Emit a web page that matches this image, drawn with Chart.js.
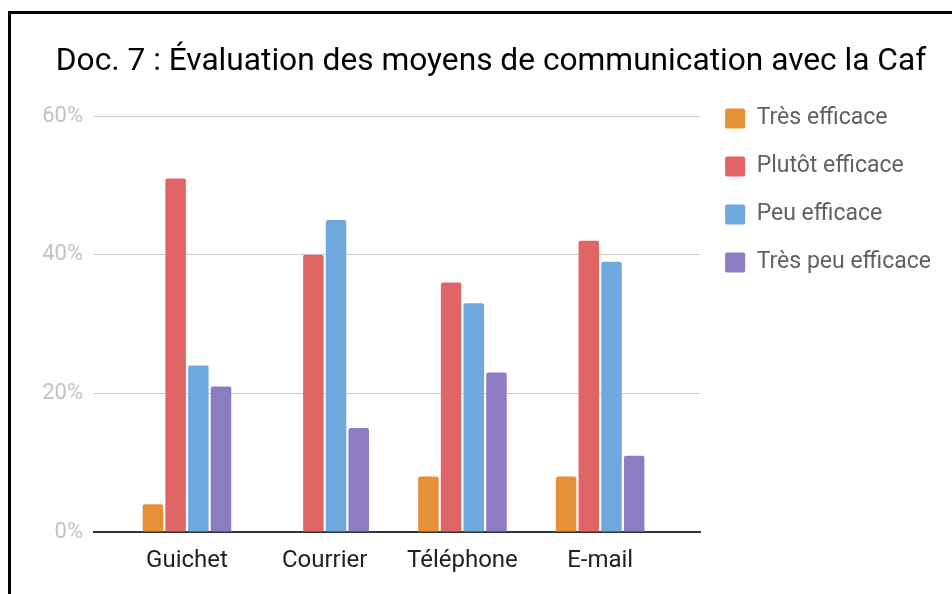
<!DOCTYPE html>
<html lang="fr">
<head>
<meta charset="utf-8">
<title>Doc. 7</title>
<script src="https://cdn.jsdelivr.net/npm/chart.js@4/dist/chart.umd.min.js"></script>
<style>
  html, body { margin: 0; padding: 0; background: #fff; }
  #wrap { position: relative; width: 952px; height: 594px; overflow: hidden; }
  #frame {
    position: absolute; left: 8px; top: 11px; width: 980px; height: 620px;
    border: 3px solid #000; pointer-events: none;
  }
</style>
</head>
<body>
<div id="wrap">
  <canvas id="chart" width="952" height="594"></canvas>
  <div id="frame"></div>
</div>
<script>
const categories = ["Guichet", "Courrier", "Téléphone", "E-mail"];
const tresEfficace = [4, 0, 8, 8];
const plutotEfficace = [51, 40, 36, 42];
const peuEfficace = [24, 45, 33, 39];
const tresPeuEfficace = [21, 15, 23, 11];
const yTicks = [0, 20, 40, 60];

// extra room (in categories) left and right of the bar groups
const X_PAD_LEFT = 0.175;
const X_PAD_RIGHT = 0.226;

function bars(label, data, color) {
  return {
    label: label,
    data: data,
    backgroundColor: color,
    borderWidth: 0,
    borderRadius: { topLeft: 2, topRight: 2 },
    borderSkipped: "start",
    categoryPercentage: 0.659,
    barPercentage: 0.903
  };
}

const ctx = document.getElementById("chart").getContext("2d");

const chart = new Chart(ctx, {
  type: "bar",
  data: {
    labels: categories,
    datasets: [
      bars("Très efficace", tresEfficace, "#e69138"),
      bars("Plutôt efficace", plutotEfficace, "#e06666"),
      bars("Peu efficace", peuEfficace, "#6fa8dc"),
      bars("Très peu efficace", tresPeuEfficace, "#8e7cc3")
    ]
  },
  options: {
    responsive: false,
    animation: false,
    events: [],
    layout: { padding: { top: 0, left: 41, right: 11, bottom: 0 } },
    scales: {
      x: {
        grid: { display: false, drawTicks: false },
        border: { display: true, color: "#333", width: 2 },
        ticks: { color: "#222", font: { family: "Roboto", size: 24 }, padding: 15 },
        afterFit: (scale) => { scale.height = 62; },
        afterBuildTicks: (scale) => {
          scale._startValue = -0.5 - X_PAD_LEFT;
          scale._valueRange = categories.length + X_PAD_LEFT + X_PAD_RIGHT;
        }
      },
      y: {
        min: 0,
        max: 60,
        afterBuildTicks: (scale) => { scale.ticks = yTicks.map(v => ({ value: v })); },
        grid: {
          drawTicks: false,
          color: (c) => (c.tick && c.tick.value === 0 ? "rgba(0,0,0,0)" : "#cccccc"),
          lineWidth: 1
        },
        border: { display: false },
        ticks: {
          color: "#c2c2c2",
          font: { family: "Roboto", size: 22 },
          padding: 11,
          callback: (v) => v + "%"
        },
        afterFit: (scale) => { scale.width = 53; }
      }
    },
    plugins: {
      title: {
        display: true,
        text: "Doc. 7 : Évaluation des moyens de communication avec la Caf",
        color: "#000",
        font: { family: "Roboto", size: 31.7, weight: "normal" },
        padding: { top: 43, bottom: 35 }
      },
      legend: {
        position: "right",
        align: "start",
        maxWidth: 300,
        title: { display: true, text: "", font: { size: 10 }, padding: { top: 70, bottom: 0 } },
        labels: {
          boxWidth: 20,
          boxHeight: 20,
          padding: 25,
          useBorderRadius: true,
          borderRadius: 2,
          color: "#616161",
          font: { family: "Roboto", size: 23 }
        }
      },
      tooltip: { enabled: false }
    }
  }
});
</script>
</body>
</html>
